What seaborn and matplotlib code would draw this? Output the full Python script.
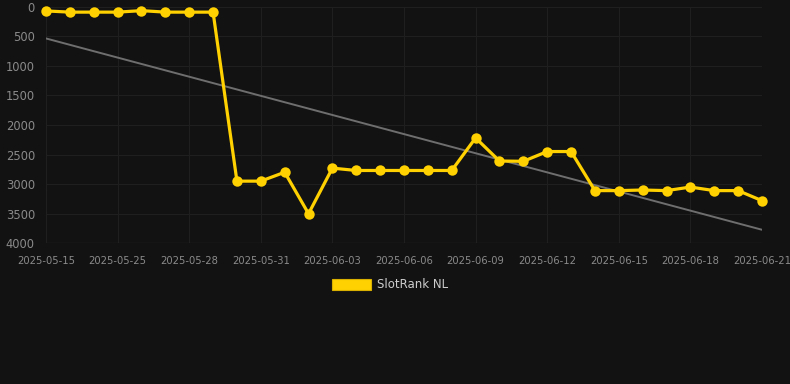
import matplotlib
matplotlib.use("Agg")
import matplotlib.pyplot as plt
import seaborn as sns
import numpy as np
import pandas as pd
from matplotlib.patches import Patch

# ---- data ----
dates = ["2025-05-15", "2025-05-23", "2025-05-24", "2025-05-25", "2025-05-26",
         "2025-05-27", "2025-05-28", "2025-05-29", "2025-05-30", "2025-05-31",
         "2025-06-01", "2025-06-02", "2025-06-03", "2025-06-04", "2025-06-05",
         "2025-06-06", "2025-06-07", "2025-06-08", "2025-06-09", "2025-06-10",
         "2025-06-11", "2025-06-12", "2025-06-13", "2025-06-14", "2025-06-15",
         "2025-06-16", "2025-06-17", "2025-06-18", "2025-06-19", "2025-06-20",
         "2025-06-21"]
rank = [75, 95, 95, 95, 70, 95, 95, 95,
        2950, 2950, 2800, 3500, 2730, 2770, 2770, 2770, 2770, 2770,
        2220, 2610, 2615, 2450, 2450,
        3110, 3110, 3100, 3110, 3050, 3110, 3110, 3280]
series_name = "SlotRank NL"
yticks = [0, 500, 1000, 1500, 2000, 2500, 3000, 3500, 4000]

BG = "#121212"
GOLD = "#FFD100"
GRID = "#1f1f1f"
TXT = "#8a8a8a"

df = pd.DataFrame({"idx": np.arange(len(dates)), "date": dates, "rank": rank})

sns.set_theme(style="dark")
plt.rcParams["font.family"] = ["DejaVu Sans"]

fig = plt.figure(figsize=(7.9, 3.84), dpi=100, facecolor=BG)
ax = fig.add_axes([46 / 790, 1 - 243.3 / 384, 716 / 790, 236.8 / 384])
ax.set_facecolor(BG)

# trend line (linear fit)
coef = np.polyfit(df["idx"], df["rank"], 1)
trend = np.polyval(coef, df["idx"])
sns.lineplot(x=df["idx"], y=trend, ax=ax, color="#6e6e6e", linewidth=1.4, zorder=2)

sns.lineplot(data=df, x="idx", y="rank", ax=ax, color=GOLD, linewidth=2.3,
             marker="o", markersize=7.5, markeredgewidth=0, zorder=3, clip_on=False)

ax.set_xlim(0, len(dates) - 1)
ax.set_ylim(4000, 0)
ax.set_yticks(yticks)
ax.set_yticklabels([str(v) for v in yticks])
xt = list(range(0, len(dates), 3))
ax.set_xticks(xt)
ax.set_xticklabels([dates[i] for i in xt])
ax.set_xlabel("")
ax.set_ylabel("")

ax.grid(True, color=GRID, linewidth=0.8)
for s in ax.spines.values():
    s.set_visible(False)
ax.tick_params(axis="y", colors=TXT, labelsize=8.3, length=0, pad=8)
ax.tick_params(axis="x", colors=GRID, labelcolor=TXT, labelsize=7.2,
               length=5, width=0.8, pad=4)
ax.axhline(4000, color="#2a2a2a", linewidth=0.9, zorder=1)

handle = Patch(facecolor=GOLD, edgecolor="#d9b000", linewidth=0.8)
leg = fig.legend([handle], [series_name], loc="center", bbox_to_anchor=(0.494, 1 - 285 / 384),
                 frameon=False, handlelength=3.3, handleheight=0.95, handletextpad=0.5,
                 fontsize=8.5, labelcolor="#cccccc")

fig.savefig("out.png", dpi=100, facecolor=BG)
